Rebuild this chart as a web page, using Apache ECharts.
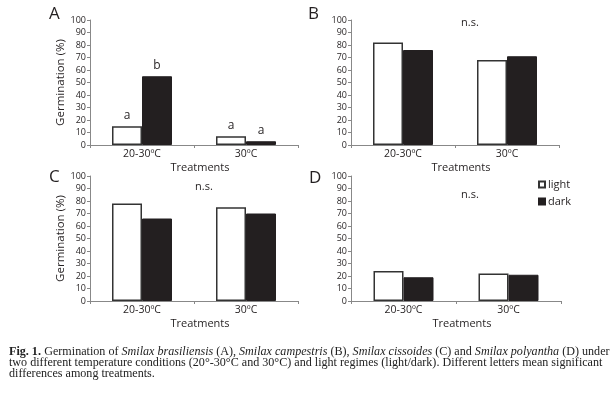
<!DOCTYPE html>
<html>
<head>
<meta charset="utf-8">
<script src="https://cdn.jsdelivr.net/npm/echarts@6/dist/echarts.min.js"></script>
<style>
html, body { margin: 0; padding: 0; background: #fff; }
#main { width: 616px; height: 396px; }
</style>
</head>
<body>
<div id="main"></div>
<script>
// categories and values
var categories = ['20-30ºC', '30ºC'];
var aLight = [15, 7],  aDark = [55, 3];
var bLight = [82, 68], bDark = [76, 71];
var cLight = [78, 75], cDark = [66, 70];
var dLight = [24, 22], dDark = [19, 21];
var aLightLetters = ['a', 'a'], aDarkLetters = ['b', 'a'];
var yTicks = [0, 100, 10]; // min, max, interval

var font = 'Open Sans';
var txt = '#231f20';

var grids = [
    { left: 90, top: 20, width: 208, height: 125 },
    { left: 351, top: 20, width: 208, height: 125 },
    { left: 90, top: 176, width: 208, height: 125 },
    { left: 351, top: 176, width: 210, height: 125 }
];

function xAx(i) {
    return {
        type: 'category', gridIndex: i, data: categories,
        axisLine: { lineStyle: { color: '#888', width: 1 } },
        axisTick: { show: true, length: 3, lineStyle: { color: '#888' } },
        axisLabel: { fontFamily: font, fontSize: 10.5, color: txt, margin: 4 },
        name: 'Treatments', nameLocation: 'middle', nameGap: 17,
        nameTextStyle: { fontFamily: font, fontSize: 11, color: txt, padding: [0, 0, 0, 12] }
    };
}
function yAx(i, named) {
    return {
        type: 'value', gridIndex: i, min: yTicks[0], max: yTicks[1], interval: yTicks[2],
        splitLine: { show: false },
        axisLine: { show: true, lineStyle: { color: '#888', width: 1 } },
        axisTick: { show: true, length: 3, lineStyle: { color: '#888' } },
        axisLabel: { fontFamily: font, fontSize: 9, color: txt, margin: 4 },
        name: named ? 'Germination (%)' : '', nameLocation: 'middle', nameGap: 22,
        nameTextStyle: { fontFamily: font, fontSize: 11.5, color: txt }
    };
}
function bar(i, name, data, letters) {
    var s = {
        type: 'bar', name: name, xAxisIndex: i, yAxisIndex: i, data: data,
        barWidth: 30, barGap: '0%',
        itemStyle: name === 'light'
            ? { color: '#fff', borderColor: '#333', borderWidth: 1.5 }
            : { color: '#231f20', borderColor: '#231f20', borderWidth: 1 },
        emphasis: { disabled: true }
    };
    if (letters) {
        s.label = {
            show: true, position: 'top', distance: 5,
            fontFamily: font, fontSize: 12, color: txt,
            formatter: function (p) { return letters[p.dataIndex]; }
        };
    }
    return s;
}
function panelText(x, y, t, size) {
    return { type: 'text', left: x, top: y, style: { text: t, fontFamily: font, fontSize: size, fill: txt } };
}

var capSize = 12.1;
var capRich = {
    b: { fontFamily: 'Liberation Serif', fontSize: capSize, fontWeight: 'bold', fill: '#222' },
    n: { fontFamily: 'Liberation Serif', fontSize: capSize, fill: '#222' },
    i: { fontFamily: 'Liberation Serif', fontSize: capSize, fontStyle: 'italic', fill: '#222' }
};
var capLines = [
    '{b|Fig. 1.} {n|Germination of }{i|Smilax brasiliensis}{n| (A), }{i|Smilax campestris}{n| (B), }{i|Smilax cissoides}{n| (C) and }{i|Smilax polyantha}{n| (D) under}',
    '{n|two different temperature conditions (20°-30°C and 30°C) and light regimes (light/dark). Different letters mean significant}',
    '{n|differences among treatments.}'
];

var option = {
    animation: false,
    backgroundColor: '#fff',
    grid: grids,
    xAxis: [xAx(0), xAx(1), xAx(2), xAx(3)],
    yAxis: [yAx(0, true), yAx(1, false), yAx(2, true), yAx(3, false)],
    legend: {
        data: ['light', 'dark'], orient: 'vertical', left: 533, top: 174,
        itemWidth: 6, itemHeight: 6, itemGap: 6, icon: 'rect',
        textStyle: { fontFamily: font, fontSize: 11, color: txt, padding: [0, 0, 0, -2] }
    },
    series: [
        bar(0, 'light', aLight, aLightLetters), bar(0, 'dark', aDark, aDarkLetters),
        bar(1, 'light', bLight), bar(1, 'dark', bDark),
        bar(2, 'light', cLight), bar(2, 'dark', cDark),
        bar(3, 'light', dLight), bar(3, 'dark', dDark)
    ],
    graphic: [
        panelText(49, 6, 'A', 17), panelText(308, 6, 'B', 17),
        panelText(49, 169, 'C', 17), panelText(309, 170, 'D', 17),
        panelText(461, 17, 'n.s.', 11), panelText(195, 181, 'n.s.', 11), panelText(461, 189, 'n.s.', 11),
        { type: 'text', left: 9, top: 346, style: { text: capLines[0], rich: capRich } },
        { type: 'text', left: 9, top: 357, style: { text: capLines[1], rich: capRich } },
        { type: 'text', left: 9, top: 368, style: { text: capLines[2], rich: capRich } }
    ]
};

var chart = echarts.init(document.getElementById('main'));
chart.setOption(option);
</script>
</body>
</html>
